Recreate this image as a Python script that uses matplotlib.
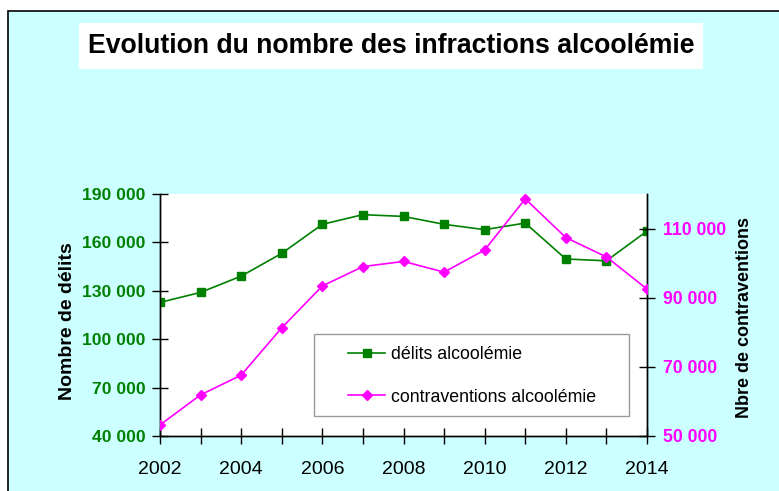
import matplotlib
matplotlib.use("Agg")
import matplotlib.pyplot as plt
from matplotlib.patches import Rectangle

years = [2002, 2003, 2004, 2005, 2006, 2007, 2008, 2009, 2010, 2011, 2012, 2013, 2014]
delits = [122800, 129000, 139100, 153200, 171200, 177200, 176100, 171200, 167900, 172000, 149700, 148600, 167000]
contraventions = [53200, 61900, 67600, 81300, 93400, 99000, 100500, 97400, 103800, 118600, 107400, 101800, 92500]
left_ticks = [40000, 70000, 100000, 130000, 160000, 190000]
right_ticks = [50000, 70000, 90000, 110000]
title = "Evolution du nombre des infractions alcoolémie"

W, H = 779, 491
plt.rcParams['font.family'] = ['Liberation Sans', 'DejaVu Sans']
fig = plt.figure(figsize=(W / 100, H / 100), dpi=100)
fig.patch.set_facecolor('white')

# background panel with black border
fig.patches.append(Rectangle((8 / W, -0.05), 1.1, (H - 11) / H + 0.05, transform=fig.transFigure,
                             facecolor='#CCFFFF', edgecolor='black', linewidth=1.2, zorder=-10))
# title box
fig.patches.append(Rectangle((79 / W, (H - 69) / H), (703 - 79) / W, 46 / H, transform=fig.transFigure,
                             facecolor='white', edgecolor='none', zorder=-5))
fig.text(391 / W, (H - 46) / H, title, ha='center', va='center', fontsize=19.2,
         fontweight='bold', color='black', zorder=2)

def fmt(v):
    return f"{v:,}".replace(",", " ")

green = '#008000'
magenta = '#FF00FF'

AX_L, AX_R, AX_T, AX_B = 160, 647, 194, 436
ax = fig.add_axes([AX_L / W, (H - AX_B) / H, (AX_R - AX_L) / W, (AX_B - AX_T) / H])
ax.set_facecolor('white')
ax2 = ax.twinx()

def ax_x(px):
    return (px - AX_L) / (AX_R - AX_L)

def ax_y(py):
    return (AX_B - py) / (AX_B - AX_T)

l1, = ax.plot(years, delits, color=green, marker='s', markersize=6, linewidth=1.2,
              label='délits alcoolémie', zorder=3)
l2, = ax2.plot(years, contraventions, color=magenta, marker='D', markersize=5.5, linewidth=1.2,
               label='contraventions alcoolémie', zorder=3)

ax.set_xlim(2002, 2014)
ax.set_ylim(40000, 190000)
ax2.set_ylim(50000, 120000)
ax.set_xticks(years)
ax.set_xticklabels([str(y) if y % 2 == 0 else '' for y in years], fontsize=14)
ax.set_yticks(left_ticks)
ax.set_yticklabels([fmt(v) for v in left_ticks], fontsize=12.6, fontweight='bold', color=green)
ax2.set_yticks(right_ticks)
ax2.set_yticklabels([fmt(v) for v in right_ticks], fontsize=12.7, fontweight='bold', color=magenta)

for a in (ax, ax2):
    a.spines['top'].set_visible(False)
    for s in a.spines.values():
        s.set_linewidth(1.0)
        s.set_color('black')
ax.tick_params(axis='both', direction='inout', length=12, width=1, colors='black')
ax.tick_params(axis='y', labelcolor=green, pad=4.2)
ax.tick_params(axis='x', pad=12)
ax2.tick_params(axis='y', direction='inout', length=12, width=1, colors='black', labelcolor=magenta, pad=5.6)

ax.set_ylabel('Nombre de délits', fontsize=14, fontweight='bold')
ax.yaxis.set_label_coords(ax_x(76), ax_y(321))
ax2.set_ylabel('Nbre de contraventions', fontsize=13, fontweight='bold')
ax2.yaxis.set_label_coords(ax_x(736), ax_y(318))

ax.set_zorder(ax2.get_zorder() - 1)
ax2.patch.set_visible(False)

# legend frame
ax2.add_patch(Rectangle((ax_x(314), ax_y(416)), ax_x(629) - ax_x(314), ax_y(334) - ax_y(416),
                        transform=ax2.transAxes, facecolor='white', edgecolor='#999999',
                        linewidth=1.0, zorder=4))
leg = ax2.legend([l1, l2], ['délits alcoolémie', 'contraventions alcoolémie'],
                 loc='upper left', bbox_to_anchor=(ax_x(348), ax_y(346)),
                 fontsize=12.75, frameon=False, handlelength=2.1, labelspacing=1.45,
                 borderpad=0, handletextpad=0.35, borderaxespad=0)
leg.set_zorder(5)

fig.savefig('out.png', dpi=100, facecolor=fig.get_facecolor())
